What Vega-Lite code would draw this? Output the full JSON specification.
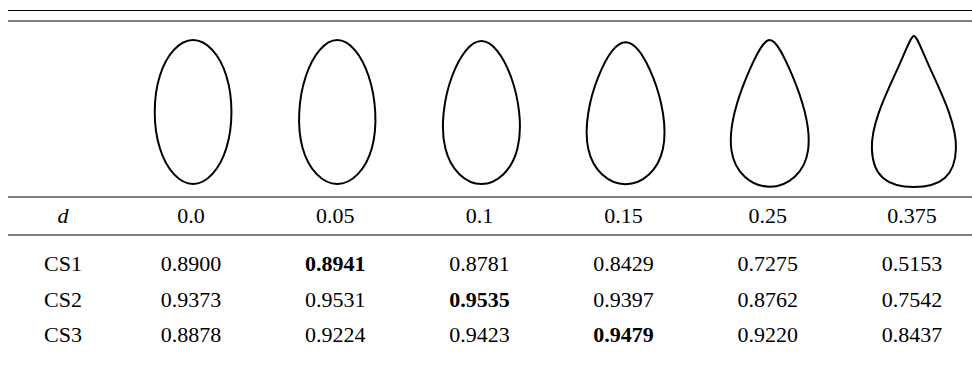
{
  "$schema": "https://vega.github.io/schema/vega-lite/v6.json",
  "width": 972,
  "height": 368,
  "padding": 0,
  "autosize": {"type": "none"},
  "background": "white",
  "config": {"view": {"stroke": null}, "text": {"font": "Liberation Serif", "fontSize": 22, "color": "black", "baseline": "middle", "align": "center"}},
  "datasets": {
    "shapes": [{"d": "0.0"}, {"d": "0.05"}, {"d": "0.1"}, {"d": "0.15"}, {"d": "0.25"}, {"d": "0.375"}],
    "labels": [{"row": "d", "text": "d"}, {"row": "CS1", "text": "CS1"}, {"row": "CS2", "text": "CS2"}, {"row": "CS3", "text": "CS3"}],
    "cells": [
      {"row": "d", "col": "0.0", "text": "0.0", "best": false},
      {"row": "d", "col": "0.05", "text": "0.05", "best": false},
      {"row": "d", "col": "0.1", "text": "0.1", "best": false},
      {"row": "d", "col": "0.15", "text": "0.15", "best": false},
      {"row": "d", "col": "0.25", "text": "0.25", "best": false},
      {"row": "d", "col": "0.375", "text": "0.375", "best": false},
      {"row": "CS1", "col": "0.0", "text": "0.8900", "best": false},
      {"row": "CS1", "col": "0.05", "text": "0.8941", "best": true},
      {"row": "CS1", "col": "0.1", "text": "0.8781", "best": false},
      {"row": "CS1", "col": "0.15", "text": "0.8429", "best": false},
      {"row": "CS1", "col": "0.25", "text": "0.7275", "best": false},
      {"row": "CS1", "col": "0.375", "text": "0.5153", "best": false},
      {"row": "CS2", "col": "0.0", "text": "0.9373", "best": false},
      {"row": "CS2", "col": "0.05", "text": "0.9531", "best": false},
      {"row": "CS2", "col": "0.1", "text": "0.9535", "best": true},
      {"row": "CS2", "col": "0.15", "text": "0.9397", "best": false},
      {"row": "CS2", "col": "0.25", "text": "0.8762", "best": false},
      {"row": "CS2", "col": "0.375", "text": "0.7542", "best": false},
      {"row": "CS3", "col": "0.0", "text": "0.8878", "best": false},
      {"row": "CS3", "col": "0.05", "text": "0.9224", "best": false},
      {"row": "CS3", "col": "0.1", "text": "0.9423", "best": false},
      {"row": "CS3", "col": "0.15", "text": "0.9479", "best": true},
      {"row": "CS3", "col": "0.25", "text": "0.9220", "best": false},
      {"row": "CS3", "col": "0.375", "text": "0.8437", "best": false}
    ]
  },
  "layer": [
    {
      "data": {"name": "shapes"},
      "mark": {"type": "point", "filled": false, "stroke": "black", "strokeWidth": 2, "opacity": 1, "size": 22500},
      "encoding": {
        "x": {"field": "d", "type": "nominal", "axis": null, "scale": {"type": "band", "domain": ["0.0", "0.05", "0.1", "0.15", "0.25", "0.375"], "range": [121, 986]}},
        "y": {"datum": "shape", "type": "nominal", "axis": null, "scale": {"type": "band", "domain": ["shape"], "range": [21, 203]}},
        "shape": {"field": "d", "type": "nominal", "legend": null, "scale": {"domain": ["0.0", "0.05", "0.1", "0.15", "0.25", "0.375"], "range": [
          "M0,-0.96C0.179,-0.96 0.355,-0.77 0.444,-0.48C0.534,-0.19 0.534,0.19 0.444,0.48C0.355,0.77 0.179,0.96 0,0.96C-0.179,0.96 -0.355,0.77 -0.444,0.48C-0.534,0.19 -0.534,-0.19 -0.444,-0.48C-0.355,-0.77 -0.179,-0.96 0,-0.96Z",
          "M0,-0.96C0.160,-0.96 0.320,-0.77 0.418,-0.48C0.515,-0.19 0.542,0.19 0.462,0.48C0.382,0.77 0.195,0.96 0,0.96C-0.195,0.96 -0.382,0.77 -0.462,0.48C-0.542,0.19 -0.515,-0.19 -0.418,-0.48C-0.320,-0.77 -0.160,-0.96 0,-0.96Z",
          "M0,-0.946C0.141,-0.946 0.288,-0.758 0.394,-0.470C0.499,-0.181 0.552,0.195 0.481,0.484C0.411,0.772 0.212,0.96 0,0.96C-0.212,0.96 -0.411,0.772 -0.481,0.484C-0.552,0.195 -0.499,-0.181 -0.394,-0.470C-0.288,-0.758 -0.141,-0.946 0,-0.946Z",
          "M0,-0.93C0.122,-0.93 0.254,-0.743 0.368,-0.457C0.481,-0.170 0.559,0.204 0.498,0.491C0.437,0.777 0.227,0.964 0,0.964C-0.227,0.964 -0.437,0.777 -0.498,0.491C-0.559,0.204 -0.481,-0.170 -0.368,-0.457C-0.254,-0.743 -0.122,-0.93 0,-0.93Z",
          "M0,-0.96C0.082,-0.96 0.183,-0.767 0.307,-0.471C0.430,-0.175 0.552,0.211 0.511,0.507C0.470,0.803 0.247,0.996 0,0.996C-0.247,0.996 -0.470,0.803 -0.511,0.507C-0.552,0.211 -0.430,-0.175 -0.307,-0.471C-0.183,-0.767 -0.082,-0.96 0,-0.96Z",
          "M0,-1.014C0.040,-1.014 0.108,-0.815 0.248,-0.511C0.388,-0.207 0.575,0.190 0.560,0.494C0.550,0.850 0.360,1.0 0,1.0C-0.360,1.0 -0.550,0.850 -0.560,0.494C-0.575,0.190 -0.388,-0.207 -0.248,-0.511C-0.108,-0.815 -0.040,-1.014 0,-1.014Z"
        ]}}
      }
    },
    {
      "data": {"name": "cells"},
      "transform": [{"filter": "datum.row == 'd'"}],
      "mark": {"type": "text"},
      "encoding": {
        "x": {"field": "col", "type": "nominal", "axis": null, "scale": {"type": "band", "domain": ["0.0", "0.05", "0.1", "0.15", "0.25", "0.375"], "range": [119, 984]}},
        "y": {"field": "row", "type": "nominal", "axis": null, "scale": {"type": "band", "domain": ["d"], "range": [197, 235]}},
        "text": {"field": "text", "type": "nominal"}
      }
    },
    {
      "data": {"name": "cells"},
      "transform": [{"filter": "datum.row != 'd' && !datum.best"}],
      "mark": {"type": "text"},
      "encoding": {
        "x": {"field": "col", "type": "nominal", "axis": null, "scale": {"type": "band", "domain": ["0.0", "0.05", "0.1", "0.15", "0.25", "0.375"], "range": [119, 984]}},
        "y": {"field": "row", "type": "nominal", "axis": null, "scale": {"type": "band", "domain": ["CS1", "CS2", "CS3"], "range": [246, 353]}},
        "text": {"field": "text", "type": "nominal"}
      }
    },
    {
      "data": {"name": "cells"},
      "transform": [{"filter": "datum.best"}],
      "mark": {"type": "text", "fontWeight": "bold"},
      "encoding": {
        "x": {"field": "col", "type": "nominal", "axis": null, "scale": {"type": "band", "domain": ["0.0", "0.05", "0.1", "0.15", "0.25", "0.375"], "range": [119, 984]}},
        "y": {"field": "row", "type": "nominal", "axis": null, "scale": {"type": "band", "domain": ["CS1", "CS2", "CS3"], "range": [246, 353]}},
        "text": {"field": "text", "type": "nominal"}
      }
    },
    {
      "data": {"name": "labels"},
      "transform": [{"filter": "datum.row != 'd'"}],
      "mark": {"type": "text"},
      "encoding": {
        "x": {"datum": "label", "type": "nominal", "axis": null, "scale": {"type": "band", "domain": ["label"], "range": [8, 118]}},
        "y": {"field": "row", "type": "nominal", "axis": null, "scale": {"type": "band", "domain": ["CS1", "CS2", "CS3"], "range": [246, 353]}},
        "text": {"field": "text", "type": "nominal"}
      }
    },
    {
      "data": {"name": "labels"},
      "transform": [{"filter": "datum.row == 'd'"}],
      "mark": {"type": "text", "fontStyle": "italic"},
      "encoding": {
        "x": {"datum": "label", "type": "nominal", "axis": null, "scale": {"type": "band", "domain": ["label"], "range": [8, 118]}},
        "y": {"field": "row", "type": "nominal", "axis": null, "scale": {"type": "band", "domain": ["d"], "range": [197, 235]}},
        "text": {"field": "text", "type": "nominal"}
      }
    },
    {
      "data": {"values": [{"line": "top"}]},
      "mark": {"type": "rule", "color": "black", "strokeWidth": 1.2, "yOffset": -10.5},
      "encoding": {
        "x": {"datum": 0, "type": "quantitative", "axis": null, "scale": {"domain": [0, 1], "range": [8, 972]}},
        "x2": {"datum": 1},
        "y": {"datum": "shape", "type": "nominal", "axis": null, "bandPosition": 0, "scale": {"type": "band", "domain": ["shape"], "range": [21, 203]}}
      }
    },
    {
      "data": {"values": [{"line": "top2"}]},
      "mark": {"type": "rule", "color": "black", "strokeWidth": 1.2},
      "encoding": {
        "x": {"datum": 0, "type": "quantitative", "axis": null, "scale": {"domain": [0, 1], "range": [8, 972]}},
        "x2": {"datum": 1},
        "y": {"datum": "shape", "type": "nominal", "axis": null, "bandPosition": 0, "scale": {"type": "band", "domain": ["shape"], "range": [21, 203]}}
      }
    },
    {
      "data": {"values": [{"line": "head-top"}]},
      "mark": {"type": "rule", "color": "black", "strokeWidth": 1.2},
      "encoding": {
        "x": {"datum": 0, "type": "quantitative", "axis": null, "scale": {"domain": [0, 1], "range": [8, 972]}},
        "x2": {"datum": 1},
        "y": {"datum": "d", "type": "nominal", "axis": null, "bandPosition": 0, "scale": {"type": "band", "domain": ["d"], "range": [197, 235]}}
      }
    },
    {
      "data": {"values": [{"line": "head-bottom"}]},
      "mark": {"type": "rule", "color": "black", "strokeWidth": 1.2},
      "encoding": {
        "x": {"datum": 0, "type": "quantitative", "axis": null, "scale": {"domain": [0, 1], "range": [8, 972]}},
        "x2": {"datum": 1},
        "y": {"datum": "d", "type": "nominal", "axis": null, "bandPosition": 1, "scale": {"type": "band", "domain": ["d"], "range": [197, 235]}}
      }
    }
  ],
  "resolve": {"scale": {"x": "independent", "y": "independent"}}
}
